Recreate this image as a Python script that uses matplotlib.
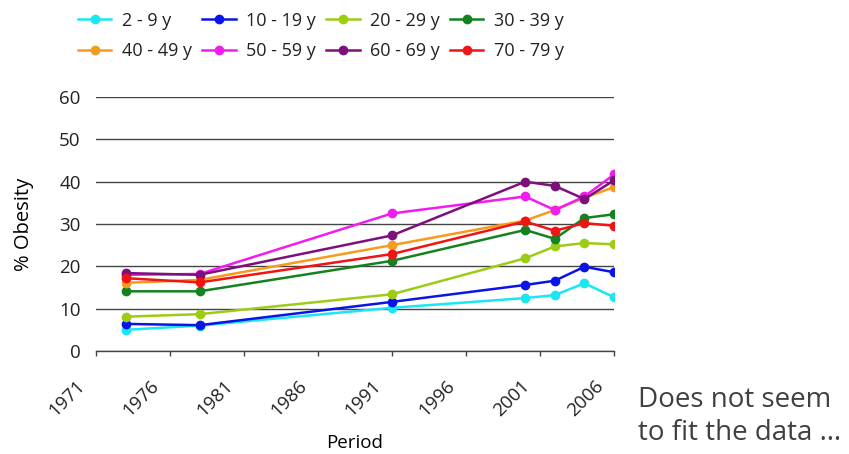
import matplotlib
matplotlib.use("Agg")
import matplotlib.pyplot as plt
from matplotlib.transforms import ScaledTranslation

# ── Data ───────────────────────────────────────────────────────────────────
years = [1973, 1978, 1991, 2000, 2002, 2004, 2006]

age_groups = ["2 - 9 y", "10 - 19 y", "20 - 29 y", "30 - 39 y",
              "40 - 49 y", "50 - 59 y", "60 - 69 y", "70 - 79 y"]

obesity_2_9   = [5.0, 6.0, 10.2, 12.5, 13.2, 16.0, 12.7]
obesity_10_19 = [6.4, 6.1, 11.6, 15.6, 16.6, 19.9, 18.6]
obesity_20_29 = [8.1, 8.7, 13.4, 21.9, 24.7, 25.5, 25.2]
obesity_30_39 = [14.1, 14.1, 21.3, 28.6, 26.5, 31.4, 32.3]
obesity_40_49 = [16.1, 16.8, 25.0, 30.8, 33.3, 36.2, 38.7]
obesity_50_59 = [18.0, 18.2, 32.5, 36.5, 33.3, 36.5, 41.7]
obesity_60_69 = [18.4, 18.0, 27.3, 40.0, 39.0, 35.9, 40.3]
obesity_70_79 = [17.2, 16.2, 22.9, 30.6, 28.4, 30.2, 29.6]

x_ticks = [1971, 1976, 1981, 1986, 1991, 1996, 2001, 2006]
y_ticks = [0, 10, 20, 30, 40, 50, 60]

# ── Style ──────────────────────────────────────────────────────────────────
COLORS = ["#1CE6F2", "#0A14E6", "#9CCC14", "#14821E",
          "#F89A1C", "#F21CF0", "#7E107E", "#F01414"]

FS = 13.5

plt.rcParams.update({
    "font.family": ["Open Sans", "DejaVu Sans"],
    "font.size": FS,
    "text.color": "#222222",
    "xtick.color": "#444444",
    "xtick.labelcolor": "#222222",
    "ytick.labelcolor": "#222222",
})

series = [obesity_2_9, obesity_10_19, obesity_20_29, obesity_30_39,
          obesity_40_49, obesity_50_59, obesity_60_69, obesity_70_79]

fig = plt.figure(figsize=(8.49, 4.54), dpi=100)
ax = fig.add_axes([0.1131, 0.2269, 0.6101, 0.5594])

handles = []
for vals, color, label in zip(series, COLORS, age_groups):
    h, = ax.plot(years, vals, color=color, linewidth=1.8,
                 marker="o", markersize=6, label=label, zorder=3)
    handles.append(h)

ax.set_xlim(1971, 2006)
ax.set_ylim(0, 60)
ax.set_xticks(x_ticks)
ax.set_yticks(y_ticks)
ax.set_xticklabels([str(t) for t in x_ticks], rotation=45,
                   ha="right", va="baseline", rotation_mode="anchor")
ax.tick_params(axis="x", length=3.6, width=1, pad=22, labelsize=FS)
ax.tick_params(axis="y", length=0, pad=11, labelsize=FS)

# labels sit a little to the left of their ticks in the original
shift = ScaledTranslation(-10 / 100, 0, fig.dpi_scale_trans)
for lbl in ax.get_xticklabels():
    lbl.set_transform(lbl.get_transform() + shift)

ax.grid(axis="y", color="#444444", linewidth=1, zorder=1)
for side in ("left", "right", "top"):
    ax.spines[side].set_visible(False)
ax.spines["bottom"].set_color("#444444")
ax.spines["bottom"].set_linewidth(1)

ax.set_xlabel("Period", fontsize=FS)
ax.xaxis.set_label_coords(0.5, -0.325)
ax.set_ylabel("% Obesity", fontsize=14.5)
ax.yaxis.set_label_coords(-0.12, 0.5)

# legend filled row by row (matplotlib fills column-first)
order = [0, 4, 1, 5, 2, 6, 3, 7]
fig.legend(handles=[handles[i] for i in order],
           labels=[age_groups[i] for i in order], ncol=4,
           loc="upper left", bbox_to_anchor=(0.0919, 0.974),
           frameon=False, fontsize=13, handlelength=1.85,
           handletextpad=0.6, columnspacing=0.55, labelspacing=0.68,
           borderpad=0, borderaxespad=0)

fig.text(0.751, 0.083, "Does not seem\nto fit the data …",
         fontsize=20, color="#404040", ha="left", va="center",
         linespacing=1.22)

fig.savefig("out.png", dpi=100)
